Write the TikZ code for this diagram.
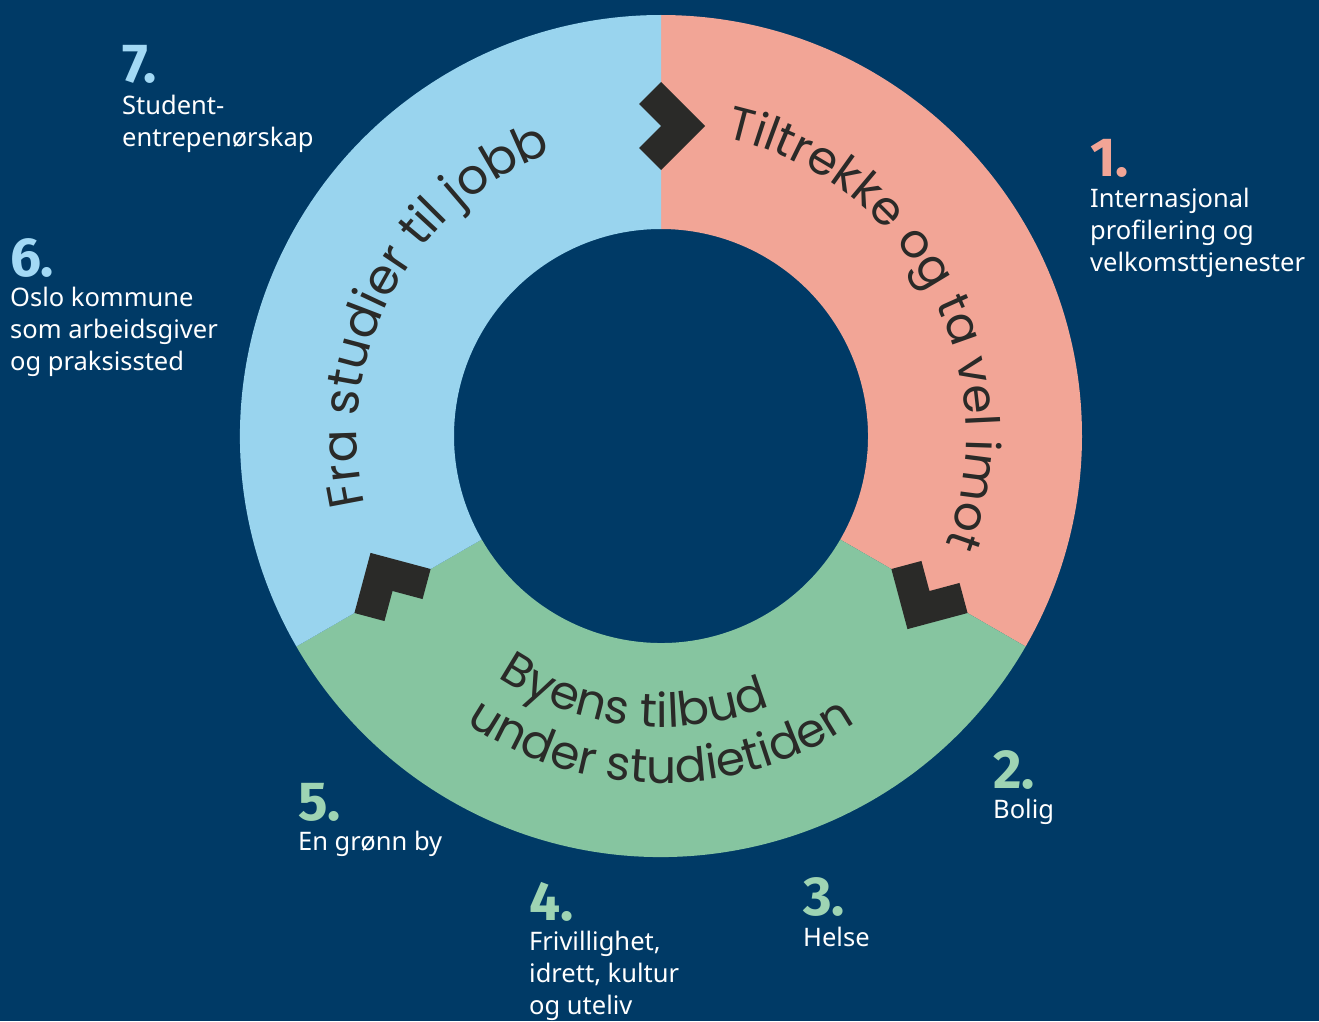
\documentclass[tikz,border=0pt]{standalone}
\usepackage{fontspec}
\setmainfont{Noto Sans}
\newfontfamily\arcfont{Poppins}
\newfontfamily\numfont{Fira Sans}
\usetikzlibrary{decorations.text}
\definecolor{bg}{HTML}{003A66}
\definecolor{segpink}{HTML}{F2A596}
\definecolor{seggreen}{HTML}{86C5A0}
\definecolor{segblue}{HTML}{99D4EE}
\definecolor{ink}{HTML}{2A2A28}
\definecolor{numblue}{HTML}{A3D9F5}
\definecolor{numpink}{HTML}{F2A596}
\definecolor{numgreen}{HTML}{9ED4B3}
\begin{document}
\begin{tikzpicture}[x=1pt,y=1pt,
  lab/.style={anchor=base west, inner sep=0pt, text=white, font=\fontsize{25.5}{32}\selectfont},
  num/.style={anchor=base west, inner sep=0pt, font=\numfont\bfseries\fontsize{55}{55}\selectfont},
  chev/.style={fill=ink}]
\fill[bg] (-661,-585) rectangle (658,436);
\useasboundingbox (-661,-585) rectangle (658,436);
% ring segments
\fill[segpink] (90:421) arc[start angle=90,end angle=-30,radius=421pt] -- (-30:207) arc[start angle=-30,end angle=90,radius=207pt] -- cycle;
\fill[seggreen] (-30:421) arc[start angle=-30,end angle=-150,radius=421pt] -- (-150:207) arc[start angle=-150,end angle=-30,radius=207pt] -- cycle;
\fill[segblue] (210:421) arc[start angle=210,end angle=90,radius=421pt] -- (90:207) arc[start angle=90,end angle=210,radius=207pt] -- cycle;
% chevrons
\foreach \a in {90,-30,210}
  \fill[chev, shift={(\a:310)}, rotate=\a-90] (0,44) -- (44,0) -- (0,-44) -- (-22,-22) -- (0,0) -- (-22,22) -- cycle;
% curved texts
\path[decorate, decoration={text along path, text align=center,
  text={|\arcfont\fontsize{47}{47}\selectfont\color{ink}|Tiltrekke og ta vel imot}}]
  (100:305) arc[start angle=100,end angle=-43,radius=305pt];
\path[decorate, decoration={text along path, text align=center,
  text={|\arcfont\fontsize{49}{49}\selectfont\color{ink}|Fra studier til jobb}}]
  (222:304) arc[start angle=222,end angle=82,radius=304pt];
\path[decorate, decoration={text along path, text align=center,
  text={|\arcfont\fontsize{47}{47}\selectfont\color{ink}|Byens tilbud}}]
  (200:291) arc[start angle=200,end angle=328,radius=291pt];
\path[decorate, decoration={text along path, text align=center,
  text={|\arcfont\fontsize{47}{47}\selectfont\color{ink}|under studietiden}}]
  (200:347) arc[start angle=200,end angle=340,radius=347pt];
% labels
\node[num, text=numblue] (n7) at (-539,353) {7.};
\node[lab] (t7a) at (-539,322) {Student-};
\node[lab] (t7b) at (-539,290) {entrepenørskap};
\node[num, text=numblue] (n6) at (-651,160) {6.};
\node[lab] (t6a) at (-651,130) {Oslo kommune};
\node[lab] (t6b) at (-651,98) {som arbeidsgiver};
\node[lab] (t6c) at (-651,66) {og praksissted};
\node[num, text=numpink] (n1) at (429,260) {1.};
\node[lab] (t1a) at (429,229) {Internasjonal};
\node[lab] (t1b) at (429,197) {profilering og};
\node[lab] (t1c) at (429,165) {velkomsttjenester};
\node[num, text=numgreen] (n2) at (332,-352) {2.};
\node[lab] (t2a) at (332,-382) {Bolig};
\node[num, text=numgreen] (n3) at (142,-479) {3.};
\node[lab] (t3a) at (142,-510) {Helse};
\node[num, text=numgreen] (n4) at (-132,-484) {4.};
\node[lab] (t4a) at (-132,-514) {Frivillighet,};
\node[lab] (t4b) at (-132,-546) {idrett, kultur};
\node[lab] (t4c) at (-132,-578) {og uteliv};
\node[num, text=numgreen] (n5) at (-363,-384) {5.};
\node[lab] (t5a) at (-363,-414) {En grønn by};
\end{tikzpicture}
\end{document}
